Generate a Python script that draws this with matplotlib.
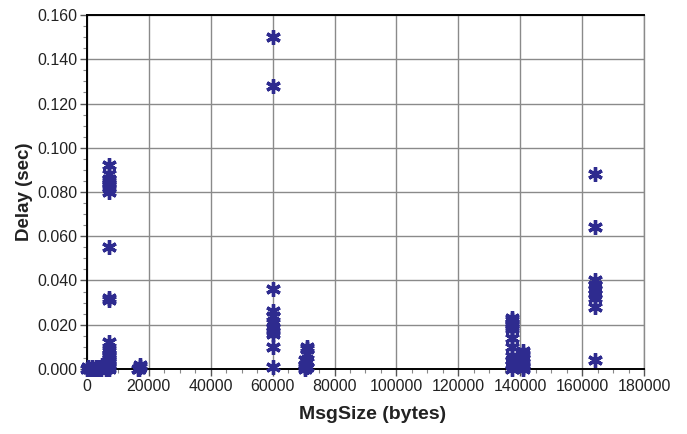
import matplotlib
matplotlib.use("Agg")
import matplotlib.pyplot as plt
from matplotlib.ticker import MultipleLocator, FormatStrFormatter

plt.rcParams['font.family'] = ['Liberation Sans', 'DejaVu Sans']

# message size (bytes) and delay (sec)
size_small = [0, 300, 600, 1000, 1500, 2000, 2500, 3000, 3500, 4000, 4500, 5000, 5500, 6000]
delay_small = [0.000, 0.001, 0.000, 0.000, 0.001, 0.000, 0.000, 0.001, 0.000, 0.001, 0.000, 0.002, 0.001, 0.000]

size_7k = [7000] * 22
delay_7k = [0.092, 0.088, 0.086, 0.085, 0.084, 0.083, 0.082, 0.080, 0.055, 0.032, 0.031,
            0.012, 0.009, 0.008, 0.007, 0.006, 0.005, 0.004, 0.003, 0.002, 0.001, 0.000]

size_17k = [16500, 17000, 17200, 16800]
delay_17k = [0.000, 0.001, 0.002, 0.000]

size_60k = [60000] * 11
delay_60k = [0.150, 0.128, 0.036, 0.026, 0.024, 0.021, 0.019, 0.017, 0.016, 0.010, 0.001]

size_71k = [70500, 70500, 70500, 70500, 71200, 71200, 71200, 71200, 71200]
delay_71k = [0.004, 0.002, 0.001, 0.000, 0.010, 0.009, 0.007, 0.003, 0.001]

size_137k = [137200] * 12
delay_137k = [0.023, 0.022, 0.021, 0.020, 0.019, 0.018, 0.014, 0.010, 0.006, 0.004, 0.002, 0.000]

size_141k = [140800] * 7
delay_141k = [0.008, 0.007, 0.005, 0.003, 0.002, 0.001, 0.000]

size_164k = [164200] * 9
delay_164k = [0.088, 0.064, 0.040, 0.038, 0.036, 0.034, 0.032, 0.028, 0.004]

sizes = size_small + size_7k + size_17k + size_60k + size_71k + size_137k + size_141k + size_164k
delays = delay_small + delay_7k + delay_17k + delay_60k + delay_71k + delay_137k + delay_141k + delay_164k

fig = plt.figure(figsize=(6.87, 4.34), dpi=100)
ax = fig.add_axes([0.1266, 0.1498, 0.9374 - 0.1266, 0.9654 - 0.1498])

ax.plot(sizes, delays, linestyle="none", marker=(6, 2, 0), markersize=10.5,
        markeredgewidth=2.4, color="#2e2b8f", clip_on=False, zorder=3)

ax.set_xlim(0, 180000)
ax.set_ylim(0, 0.160)
ax.xaxis.set_major_locator(MultipleLocator(20000))
ax.xaxis.set_minor_locator(MultipleLocator(5000))
ax.yaxis.set_major_locator(MultipleLocator(0.02))
ax.yaxis.set_minor_locator(MultipleLocator(0.005))
ax.yaxis.set_major_formatter(FormatStrFormatter("%.3f"))

ax.grid(True, which="major", color="#8a8a8a", linewidth=1.0)
ax.set_axisbelow(True)

for side in ["left", "bottom", "top"]:
    ax.spines[side].set_color("black")
    ax.spines[side].set_linewidth(1.4)
ax.spines["right"].set_color("#8a8a8a")
ax.spines["right"].set_linewidth(1.0)

ax.tick_params(which="major", direction="out", length=5, width=1, color="#555555",
               labelsize=11.5, pad=2, labelcolor="#222222")
ax.tick_params(which="minor", direction="out", length=3, width=0.8, color="#888888")

ax.set_xlabel("MsgSize (bytes)", fontsize=14, fontweight="bold", color="#222222")
ax.xaxis.set_label_coords(0.512, -0.105)
ax.set_ylabel("Delay (sec)", fontsize=13.5, fontweight="bold", color="#222222", labelpad=3)

fig.savefig("out.png", dpi=100)
